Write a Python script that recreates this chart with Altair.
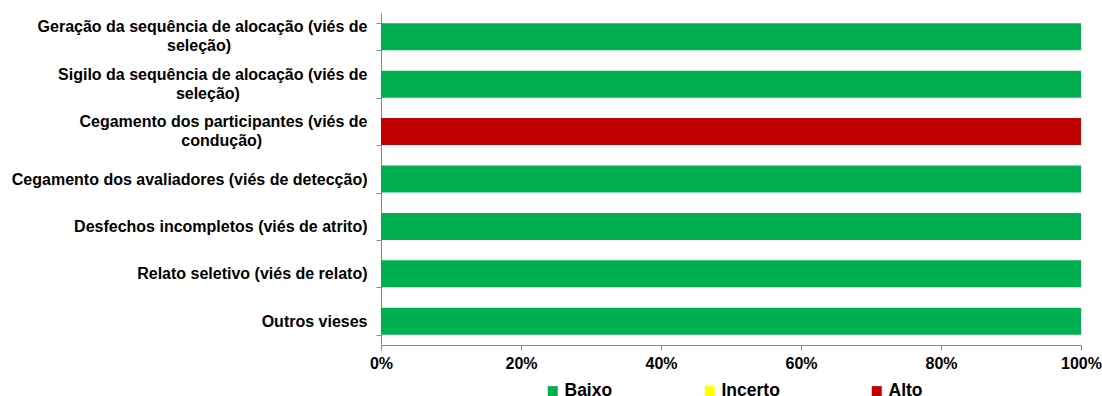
import json
import altair as alt
import pandas as pd

categories = [
    "Geração da sequência de alocação (viés de\nseleção)",
    "Sigilo da sequência de alocação (viés de\nseleção)",
    "Cegamento dos participantes (viés de\ncondução)",
    "Cegamento dos avaliadores (viés de detecção)",
    "Desfechos incompletos (viés de atrito)",
    "Relato seletivo (viés de relato)",
    "Outros vieses",
]
# trailing blank padding so the second line sits centred under the first
label_pad = [28, 26, 21, 0, 0, 0, 0]

levels = ["Baixo", "Incerto", "Alto"]
colors = ["#00B050", "#FFFF00", "#C00000"]

baixo = [100, 100, 0, 100, 100, 100, 100]
incerto = [0, 0, 0, 0, 0, 0, 0]
alto = [0, 0, 100, 0, 0, 0, 0]

rows = []
for i, cat in enumerate(categories):
    for j, (lvl, vals) in enumerate(zip(levels, [baixo, incerto, alto])):
        rows.append({"Domínio": cat, "Risco": lvl, "Valor": vals[i], "ordem": j})
df = pd.DataFrame(rows)

# display lines: last line padded with nbsp and closed by a blank (non-whitespace) glyph
display = []
for cat, p in zip(categories, label_pad):
    lines = cat.split("\n")
    if p:
        lines[-1] = lines[-1] + "\u00a0" * p + "\u2800"
    display.append(lines)
label_expr = f"{json.dumps(display)}[indexof({json.dumps(categories)}, datum.value)]"
multi = [c for c in categories if "\n" in c]
multi_test = f"indexof({json.dumps(multi)}, datum.value) >= 0"

FONT = "Liberation Sans"

chart = (
    alt.Chart(df)
    .mark_bar()
    .encode(
        y=alt.Y(
            "Domínio:N",
            sort=categories,
            title=None,
            scale=alt.Scale(paddingInner=0.43, paddingOuter=0.215),
            axis=alt.Axis(
                labelExpr=label_expr,
                labelFont=FONT,
                labelFontSize=16,
                labelFontWeight="bold",
                labelColor="#000000",
                labelLimit=500,
                labelLineHeight=19,
                labelPadding=9,
                labelBaseline={
                    "condition": {"test": multi_test, "value": "line-bottom"},
                    "value": "middle",
                },
                tickBand="extent",
                tickSize=5,
                tickColor="#868686",
                domainColor="#868686",
                grid=False,
            ),
        ),
        x=alt.X(
            "Valor:Q",
            stack="zero",
            title=None,
            scale=alt.Scale(domain=[0, 100], nice=False),
            axis=alt.Axis(
                values=[0, 20, 40, 60, 80, 100],
                labelExpr="datum.value + '%'",
                labelFont=FONT,
                labelFontSize=16,
                labelFontWeight="bold",
                labelColor="#000000",
                labelPadding=5,
                tickSize=5,
                tickColor="#868686",
                domainColor="#868686",
                grid=False,
                labelFlush=False,
            ),
        ),
        color=alt.Color(
            "Risco:N",
            scale=alt.Scale(domain=levels, range=colors),
            sort=levels,
            legend=alt.Legend(
                title=None,
                orient="none",
                direction="horizontal",
                legendX=163,
                legendY=369,
                symbolType="square",
                symbolSize=100,
                symbolStrokeWidth=0,
                labelFont=FONT,
                labelFontSize=17.5,
                labelFontWeight="bold",
                labelColor="#000000",
                labelOffset=3,
                columnPadding=88,
                padding=0,
            ),
        ),
        order=alt.Order("ordem:Q"),
    )
    .properties(
        width=700,
        height=332,
        autosize=alt.AutoSizeParams(type="none"),
        padding={"left": 381, "top": 13, "right": 21, "bottom": 51},
    )
    .configure_view(stroke=None)
)

chart.save("out.html", embed_options={"renderer": "svg", "actions": False})
